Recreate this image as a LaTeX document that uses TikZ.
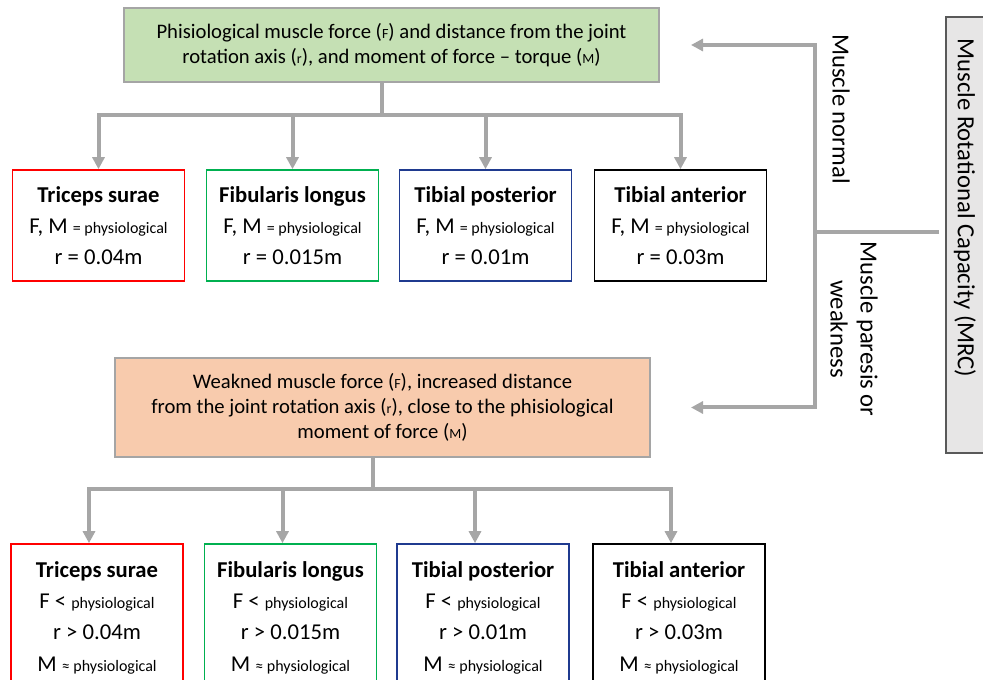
\documentclass[tikz,border=0pt]{standalone}
\usepackage{fontspec}
\setmainfont{Carlito}
\usetikzlibrary{arrows.meta}

\begin{document}
\begin{tikzpicture}[x=0.75pt,y=-0.75pt]

\definecolor{mrclink}{HTML}{A6A6A6}
\definecolor{mrcframe}{HTML}{A5A5A5}
\definecolor{mrcnormal}{HTML}{C5E0B4}
\definecolor{mrcweak}{HTML}{F8CBAD}
\definecolor{mrcgrey}{HTML}{E7E6E6}
\definecolor{mrcdark}{HTML}{595959}
\definecolor{mrcred}{HTML}{FF0000}
\definecolor{mrcgreen}{HTML}{00B050}
\definecolor{mrcblue}{HTML}{1F3A8F}

% The quantity letters in the summaries are set small, as in the source.
\newcommand{\mrcsub}[1]{{\fontsize{10.5}{10.5}\selectfont #1}}
\newcommand{\mrcphys}[1]{{\fontsize{12}{12}\selectfont #1}}

\tikzset{
  summary/.style={
    draw=mrcframe, line width=1.5pt, minimum width=401.25pt,
    inner sep=0pt, align=center, font=\fontsize{15.5}{18.75}\selectfont
  },
  musclebox/.style={
    draw, fill=white, line width=1.2pt, minimum width=129pt,
    inner sep=0pt, align=center, font=\fontsize{17}{23.5}\selectfont
  },
  sidelabel/.style={
    rotate=-90, inner sep=0pt, align=center,
    font=\fontsize{18.5}{22.5}\selectfont
  },
  link/.style={draw=mrclink, line width=3pt},
  linkarrow/.style={link, -{Triangle[length=9pt,width=9pt]}}
}

\useasboundingbox (0,0) rectangle (983,680);
\clip (0,0) rectangle (983,680);

% Normal muscle: summary and the four muscles below it.
\node[summary, fill=mrcnormal, minimum height=55.5pt] (normal) at (391.5,45)
  {Phisiological muscle force (\mrcsub{F}) and distance from the joint\\
   rotation axis (\mrcsub{r}), and moment of force -- torque (\mrcsub{M})};

\node[musclebox, draw=mrcred, minimum height=83.25pt] (nts) at (98.5,225.5)
  {\textbf{Triceps surae}\\F, M \mrcphys{= physiological}\\r = 0.04m};
\node[musclebox, draw=mrcgreen, minimum height=83.25pt] (nfl) at (292.5,225.5)
  {\textbf{Fibularis longus}\\F, M \mrcphys{= physiological}\\r = 0.015m};
\node[musclebox, draw=mrcblue, minimum height=83.25pt] (ntp) at (485.5,225.5)
  {\textbf{Tibial posterior}\\F, M \mrcphys{= physiological}\\r = 0.01m};
\node[musclebox, draw=black, minimum height=83.25pt] (nta) at (680.5,225.5)
  {\textbf{Tibial anterior}\\F, M \mrcphys{= physiological}\\r = 0.03m};

% Weakened muscle: summary and the four muscles below it.
\node[summary, fill=mrcweak, minimum height=74.25pt] (weak) at (382.5,407.5)
  {Weakned muscle force (\mrcsub{F}), increased distance\\
   from the joint rotation axis (\mrcsub{r}), close to the phisiological\\
   moment of force (\mrcsub{M})};

\node[musclebox, draw=mrcred, minimum height=110.25pt] (wts) at (97,617.5)
  {\textbf{Triceps surae}\\F < \mrcphys{physiological}\\r > 0.04m\\
   M \mrcphys{≈ physiological}};
\node[musclebox, draw=mrcgreen, minimum height=110.25pt] (wfl) at (290.5,617.5)
  {\textbf{Fibularis longus}\\F < \mrcphys{physiological}\\r > 0.015m\\
   M \mrcphys{≈ physiological}};
\node[musclebox, draw=mrcblue, minimum height=110.25pt] (wtp) at (483,617.5)
  {\textbf{Tibial posterior}\\F < \mrcphys{physiological}\\r > 0.01m\\
   M \mrcphys{≈ physiological}};
\node[musclebox, draw=black, minimum height=110.25pt] (wta) at (679,617.5)
  {\textbf{Tibial anterior}\\F < \mrcphys{physiological}\\r > 0.03m\\
   M \mrcphys{≈ physiological}};

% Muscle Rotational Capacity, cut by the right edge of the page.
\node[draw=mrcdark, fill=mrcgrey, line width=1.2pt, minimum width=33pt,
  minimum height=327pt] (mrc) at (968,235) {};
\node[sidelabel] (mrclabel) at (965,208) {Muscle Rotational Capacity (MRC)};

\node[sidelabel] (normallabel) at (841,109) {Muscle normal};
\node[sidelabel] (weaklabel) at (854,329) {Muscle paresis or\\weakness};

% Branching into the two cases.
\coordinate (split) at (815,232);
\draw[link, shorten <=4.5pt] (mrc.west |- split) -- (split);
\draw[linkarrow] (split) |- ([xshift=23.25pt]normal.east);
\draw[linkarrow] (split) |- ([xshift=30pt]weak.east);

% From each summary down to its muscles.
\coordinate (normalhub) at (382,115);
\draw[link] (normal.south -| normalhub) -- (normalhub);
\foreach \muscle in {nts,nfl,ntp,nta}
  \draw[linkarrow] (normalhub) -| (\muscle.north);

\coordinate (weakhub) at (373,489);
\draw[link] (weak.south -| weakhub) -- (weakhub);
\foreach \muscle in {wts,wfl,wtp,wta}
  \draw[linkarrow] (weakhub) -| ([xshift=-6pt]\muscle.north);

\end{tikzpicture}
\end{document}
